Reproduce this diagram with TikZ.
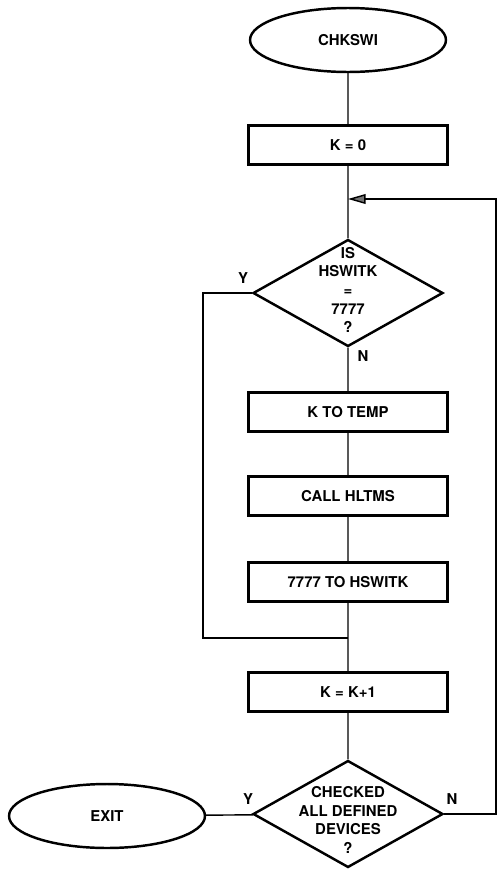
\documentclass[tikz,border=0pt]{standalone}
\usepackage{fontspec}
\setsansfont{TeX Gyre Heros}
\usetikzlibrary{arrows.meta,shapes.geometric,positioning}
\tikzset{
  termOval/.style={ellipse,draw,line width=1.4pt,minimum width=3.92cm,minimum height=1.28cm,inner sep=0pt},
  procBox/.style={rectangle,draw,line width=1.4pt,minimum width=3.98cm,minimum height=0.78cm,inner sep=0pt},
  testDia/.style={diamond,draw,line width=1.4pt,minimum width=3.8cm,minimum height=2.14cm,inner sep=0pt},
  diaText/.style={align=center,inner sep=0pt,font=\sffamily\bfseries\fontsize{8.5}{10.6}\selectfont},
  ynLab/.style={inner sep=0pt,font=\sffamily\bfseries\fontsize{8.5}{10}\selectfont},
  flowLine/.style={line width=0.8pt},
  backArrow/.style={line width=0.8pt,-{Triangle[length=10pt,width=5.5pt,fill=black!55]}}
}

\begin{document}
\begin{tikzpicture}[x=0.02cm,y=-0.02cm,font=\sffamily\bfseries\fontsize{8.5}{10}\selectfont]
  \useasboundingbox (0,0) rectangle (499,869);
  \node[termOval] (start) at (348,40) {CHKSWI};
  \node[procBox] (kzero) at (348,145) {K = 0};
  \coordinate (loopin) at (348,199);
  \node[testDia] (d1) at (348,293) {};
  \node[diaText] (d1t) at (348,290) {IS\\HSWITK\\=\\7777\\?};
  \node[procBox] (ktemp) at (348,412) {K TO TEMP};
  \node[procBox] (call) at (348,496) {CALL HLTMS};
  \node[procBox] (sev) at (348,582) {7777 TO HSWITK};
  \coordinate (join) at (348,638);
  \node[procBox] (kinc) at (348,692) {K = K+1};
  \node[testDia] (d2) at (348,814) {};
  \node[diaText] (d2t) at (348,820) {CHECKED\\ALL DEFINED\\DEVICES\\?};
  \node[termOval] (exit) at (107,816) {EXIT};
  \node[ynLab] (y1) at (243,278) {Y};
  \node[ynLab] (n1) at (363,356) {N};
  \node[ynLab] (y2) at (248,799) {Y};
  \node[ynLab] (n2) at (452,799) {N};
  \coordinate (ycorner) at (203,293);
  \coordinate (rtop) at (496,199);
  \coordinate (rbot) at (496,814);
  \draw[flowLine] (start)--(kzero) (kzero)--(d1) (d1)--(ktemp) (ktemp)--(call)
        (call)--(sev) (sev)--(kinc) (kinc)--(d2) (d2)--(exit);
  \draw[flowLine] (d1.west)--(ycorner)|-(join);
  \draw[backArrow] (d2.east)--(rbot)--(rtop)--(loopin);
\end{tikzpicture}
\end{document}
